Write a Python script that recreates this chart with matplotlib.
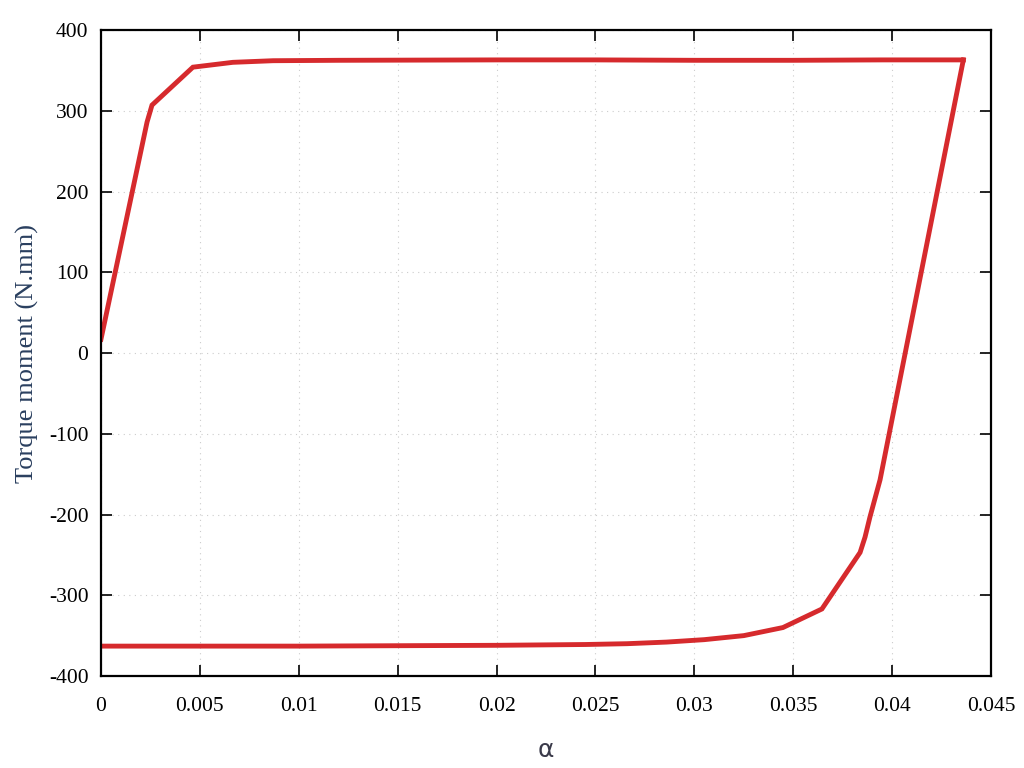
import matplotlib
matplotlib.use("Agg")
import matplotlib.pyplot as plt

plt.rcParams['axes.unicode_minus'] = False

# loading branch (alpha, torque)
alpha_up = [0.0, 0.00233, 0.00258, 0.00465, 0.00667, 0.0087, 0.012, 0.02, 0.025, 0.03, 0.035, 0.0395, 0.0436]
torque_up = [17, 286, 307, 354, 360, 362, 362.5, 363, 363, 362.5, 362.5, 363, 363]

# unloading branch (alpha, torque)
alpha_down = [0.0436, 0.03939, 0.03888, 0.03863, 0.03838, 0.03645, 0.03448, 0.0325, 0.0305,
              0.0286, 0.0266, 0.0245, 0.02, 0.015, 0.01, 0.005, 0.0]
torque_down = [363, -157, -203, -228, -247, -317, -340, -350, -355,
               -358, -360, -361, -362, -362.5, -363, -363, -363]

xticks = [0, 0.005, 0.01, 0.015, 0.02, 0.025, 0.03, 0.035, 0.04, 0.045]
xticklabels = ["0", "0.005", "0.01", "0.015", "0.02", "0.025", "0.03", "0.035", "0.04", "0.045"]
yticks = [-400, -300, -200, -100, 0, 100, 200, 300, 400]

fig = plt.figure(figsize=(10.24, 7.68), dpi=100)
ax = fig.add_axes([0.0986, 0.1198, 0.8692, 0.8411])

line_color = "#d62a2d"
ax.plot(alpha_up, torque_up, color=line_color, linewidth=3.5, solid_joinstyle="miter")
ax.plot(alpha_down, torque_down, color=line_color, linewidth=3.5, solid_joinstyle="miter")

ax.set_xlim(0, 0.045)
ax.set_ylim(-400, 400)
ax.set_xticks(xticks)
ax.set_xticklabels(xticklabels)
ax.set_yticks(yticks)

# gnuplot-like look: inward ticks on all four sides, dotted grid
ax.tick_params(direction="in", length=8, width=1.2, top=True, right=True,
               labeltop=False, labelright=False)
ax.tick_params(axis="x", pad=15)
ax.tick_params(axis="y", pad=9)
for lab in ax.get_xticklabels() + ax.get_yticklabels():
    lab.set_fontfamily("Liberation Serif")
    lab.set_fontsize(15.5)
    lab.set_color("black")
for sp in ax.spines.values():
    sp.set_linewidth(1.6)
ax.grid(True, linestyle=(0, (1, 4)), color="#cccccc", linewidth=0.8)

ax.set_xlabel("α", fontfamily="DejaVu Sans", fontsize=18, color="#3a3a4a", labelpad=16)
ax.set_ylabel("Torque moment (N.mm)", fontfamily="Liberation Serif", fontsize=19,
              color="#2a3f5f", labelpad=7)

fig.savefig("out.png", dpi=100)
